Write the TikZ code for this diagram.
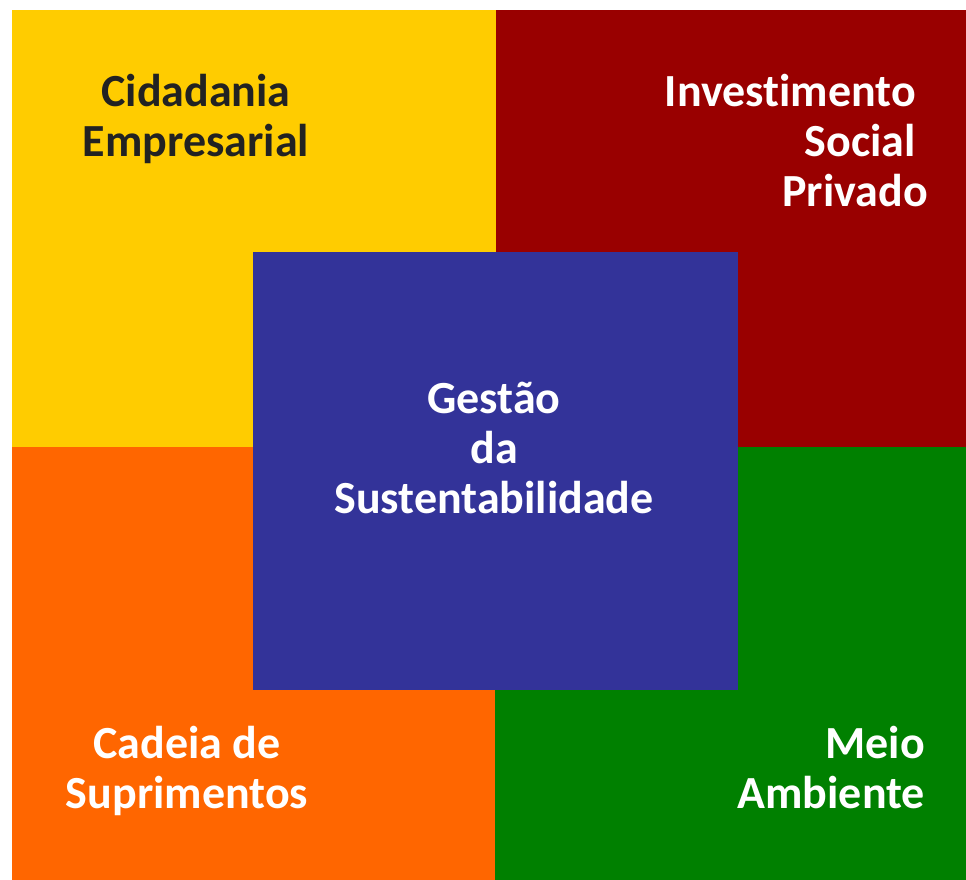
\documentclass[tikz,border=0pt]{standalone}
\usepackage{fontspec}
\setmainfont[Ligatures={NoCommon}]{Carlito}
\definecolor{cyellow}{HTML}{FFCC00}
\definecolor{cred}{HTML}{990000}
\definecolor{corange}{HTML}{FF6600}
\definecolor{cgreen}{HTML}{008000}
\definecolor{cblue}{HTML}{333399}
\definecolor{cdark}{HTML}{222222}
\tikzset{
  lbl/.style={inner sep=0pt, font=\fontsize{46}{50}\selectfont\bfseries},
}
\newcommand{\linesR}[1]{\begin{tabular}[t]{@{}r@{}}#1\end{tabular}}
\newcommand{\linesC}[1]{\begin{tabular}[t]{@{}c@{}}#1\end{tabular}}
\newcommand{\trail}{\kern12pt}
\begin{document}
\begin{tikzpicture}[x=1pt,y=-1pt]
\useasboundingbox (0,0) rectangle (966,880);
\fill[white] (0,0) rectangle (966,880);
\fill[cyellow] (12,10) rectangle (496,447);
\fill[cred] (496,10) rectangle (966,447);
\fill[corange] (12,447) rectangle (495,880);
\fill[cgreen] (495,447) rectangle (966,880);
\fill[cblue] (253,252) rectangle (738,690);
\node[lbl, text=cdark, anchor=base] (ce) at (196,107) {\linesC{Cidadania\\Empresarial}};
\node[lbl, text=white, anchor=base east] (isp) at (928,107) {\linesR{Investimento\trail\\Social\trail\\Privado}};
\node[lbl, text=white, anchor=base] (gs) at (494,413) {\linesC{Gestão\\da\\Sustentabilidade}};
\node[lbl, text=white, anchor=base] (cs) at (187,758) {\linesC{Cadeia de\\Suprimentos}};
\node[lbl, text=white, anchor=base east] (ma) at (925,758) {\linesR{Meio\\Ambiente}};
\end{tikzpicture}
\end{document}
